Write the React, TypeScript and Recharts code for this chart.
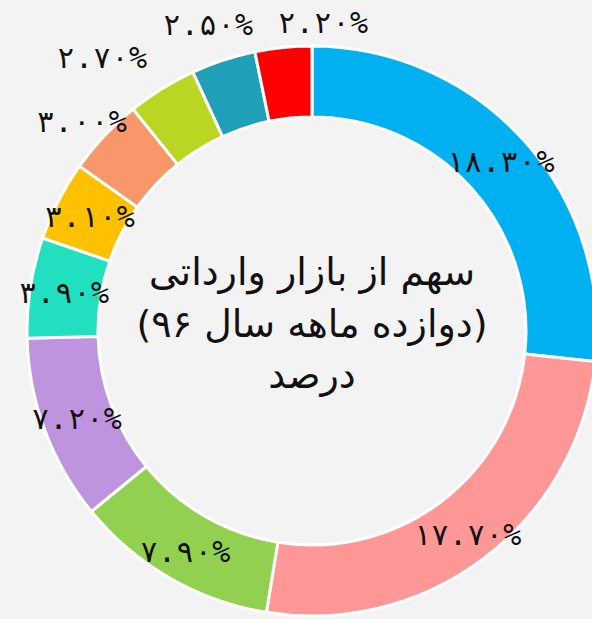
import React from "react";
import { PieChart, Pie, Cell, Label } from "recharts";

const categories = ["s1", "s2", "s3", "s4", "s5", "s6", "s7", "s8", "s9", "s10"];
const shares = [18.3, 17.7, 7.9, 7.2, 3.9, 3.1, 3.0, 2.7, 2.5, 2.2];
const shareLabels = ["۱۸.۳۰%", "۱۷.۷۰%", "۷.۹۰%", "۷.۲۰%", "۳.۹۰%", "۳.۱۰%", "۳.۰۰%", "۲.۷۰%", "۲.۵۰%", "۲.۲۰%"];
const centerLines = ["سهم از بازار وارداتی", "(دوازده ماهه سال ۹۶)", "درصد"];

const colors = ["#00b0f0", "#ff9797", "#92d050", "#bf94de", "#22e0bf", "#ffc000", "#f9966a", "#bad622", "#1f9fb8", "#ff0000"];
// label placement: radius and angle tweak (degrees), layout only
const labelRadius = [253, 256, 254, 251, 251, 250, 311, 345, 324, 309];
const labelAngleShift = [0, 0, 0, 0, 0, 0, 1, 5.7, 0.6, -7.8];

const data = categories.map((c, i) => ({ name: c, value: shares[i], label: shareLabels[i] }));

const CX = 312;
const CY = 331;
const LABEL_FONT = "'DejaVu Sans Mono', monospace";
const CENTER_FONT = "'DejaVu Sans', sans-serif";
const RAD = Math.PI / 180;

const renderLabel = (props: any) => {
  const { cx, cy, midAngle, index } = props;
  const a = (midAngle + labelAngleShift[index]) * RAD;
  const r = labelRadius[index];
  const x = cx + r * Math.cos(a);
  const y = cy - r * Math.sin(a);
  return (
    <text x={x} y={y} textAnchor="middle" dominantBaseline="central" fill="#111" fontSize={30} fontFamily={LABEL_FONT}>
      {shareLabels[index]}
    </text>
  );
};

const CenterText = () => {
  const baselines = [285, 337, 388];
  return (
    <g>
      {centerLines.map((t, i) => (
        <text
          key={i}
          x={CX}
          y={baselines[i]}
          textAnchor="middle"
          direction="rtl"
          fill="#111"
          fontSize={38}
          fontFamily={CENTER_FONT}
        >
          {t}
        </text>
      ))}
    </g>
  );
};

export default function App() {
  return (
    <div style={{ position: "absolute", left: 0, top: 0, width: 592, height: 619, background: "#f4f3f4", overflow: "hidden" }}>
      <PieChart width={592} height={619} margin={{ top: 0, right: 0, bottom: 0, left: 0 }}>
        <Pie
          data={data}
          dataKey="value"
          nameKey="name"
          cx={CX}
          cy={CY}
          innerRadius={214}
          outerRadius={285}
          startAngle={90}
          endAngle={-270}
          stroke="#ffffff"
          strokeWidth={3}
          label={renderLabel}
          labelLine={false}
          isAnimationActive={false}
        >
          {data.map((d, i) => (
            <Cell key={d.name} fill={colors[i]} />
          ))}
          <Label position="center" content={<CenterText />} />
        </Pie>
      </PieChart>
    </div>
  );
}
